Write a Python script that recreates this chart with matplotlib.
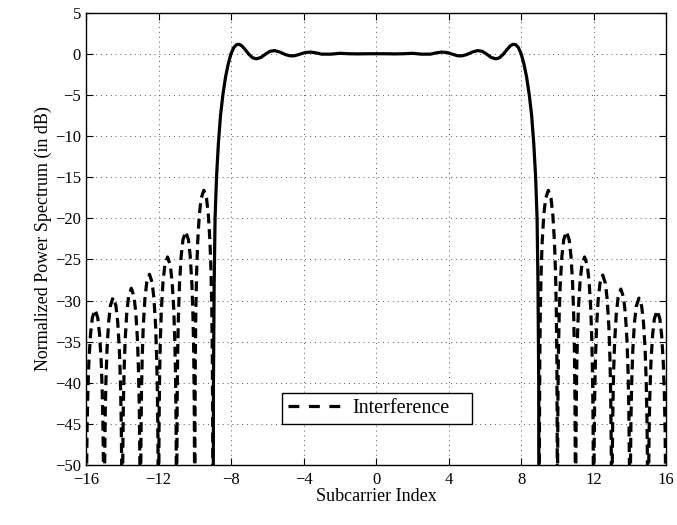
import numpy as np
import matplotlib
matplotlib.use("Agg")
import matplotlib.pyplot as plt

plt.rcParams["font.family"] = ["Liberation Serif", "DejaVu Serif"]

# in-band (solid) curve, left half; right half is the mirror
band_x = [-9.0, -8.97, -8.93, -8.88, -8.8, -8.7, -8.58, -8.45, -8.3, -8.15, -8.0,
          -7.85, -7.7, -7.55, -7.4, -7.2, -7.0, -6.8, -6.6, -6.35, -6.1, -5.85,
          -5.6, -5.3, -5.0, -4.75, -4.5, -4.2, -3.9, -3.6, -3.3, -3.0, -2.5,
          -2.0, -1.5, -1.0, -0.5]
band_y = [-80, -40, -28, -20, -15, -11, -7.5, -5.0, -2.8, -1.2, 0.0,
          0.75, 1.1, 1.15, 0.95, 0.45, -0.1, -0.5, -0.62, -0.45, -0.05, 0.3,
          0.38, 0.2, -0.1, -0.25, -0.25, -0.05, 0.15, 0.2, 0.1, -0.05, -0.05,
          0.05, 0.0, -0.02, 0.0]

# sidelobe peaks (dB) of the interference, lobes between integer nulls
left_nulls = [-16, -15, -14, -13, -12, -11, -10, -9]
left_peaks = [-31.1, -29.6, -28.5, -26.8, -24.7, -21.6, -16.6]
right_nulls = [9, 10, 11, 12, 13, 14, 15, 16]
right_peaks = [-16.6, -21.6, -24.7, -26.9, -28.6, -29.7, -31.2]

# shape of one lobe: position inside the lobe and drop from its peak (dB)
lobe_t = [0.0, 0.01, 0.03, 0.06, 0.1, 0.16, 0.25, 0.35, 0.5, 0.65, 0.75, 0.84,
          0.9, 0.94, 0.97, 0.99]
lobe_drop = [-60, -30, -20.5, -14.5, -10.2, -6.3, -3.0, -1.0, 0.0, -1.0, -3.0,
             -6.3, -10.2, -14.5, -20.5, -30]


def lobes(nulls, peaks):
    xs, ys = [], []
    for k in range(len(peaks)):
        for t, d in zip(lobe_t, lobe_drop):
            xs.append(nulls[k] + t)
            ys.append(peaks[k] + d)
    xs.append(nulls[-1])
    ys.append(-80)
    return xs, ys


fig = plt.figure(figsize=(6.77, 5.25), dpi=100)
ax = fig.add_axes([0.127, 0.114, 0.857, 0.862])

bx = np.array(band_x)
by = np.array(band_y)
full_x = np.concatenate([bx, [0.0], -bx[::-1]])
full_y = np.concatenate([by, [0.0], by[::-1]])
ax.plot(full_x, full_y, color="black", lw=2.3, solid_capstyle="butt")

lx, ly = lobes(left_nulls, left_peaks)
rx, ry = lobes(right_nulls, right_peaks)
ax.plot(lx, ly, color="black", lw=2.3, dashes=(3.1, 1.8), label="Interference")
ax.plot(rx, ry, color="black", lw=2.3, dashes=(3.1, 1.8))

ax.set_xlim(-16, 16)
ax.set_ylim(-50, 5)
ax.set_xticks(np.arange(-16, 17, 4))
ax.set_yticks(np.arange(-50, 6, 5))
ax.set_xticklabels(["\u221216", "\u221212", "\u22128", "\u22124", "0", "4", "8", "12", "16"])
ax.set_yticklabels([("\u2212%d" % -v) if v < 0 else str(v) for v in range(-50, 6, 5)])
ax.tick_params(direction="in", top=True, right=True, labelsize=12, length=5, width=0.8)
ax.tick_params(axis="x", pad=5)
ax.grid(True, color="#555555", linestyle=(0, (1, 4)), linewidth=0.7)
for s in ax.spines.values():
    s.set_linewidth(1.0)

ax.set_xlabel("Subcarrier Index", fontsize=13, labelpad=0)
ax.set_ylabel("Normalized Power Spectrum (in dB)", fontsize=13, labelpad=2)

leg = ax.legend(loc="lower left", bbox_to_anchor=(0.338, 0.09, 0.327, 0.077),
                mode="expand", fontsize=14.5, handlelength=2.65, handletextpad=0.55,
                fancybox=False, framealpha=1, edgecolor="black",
                borderpad=0.3, borderaxespad=0)
leg.get_frame().set_linewidth(1.0)
leg.get_lines()[0].set_dashes((3.4, 3.0))

fig.savefig("out.png", dpi=100)
